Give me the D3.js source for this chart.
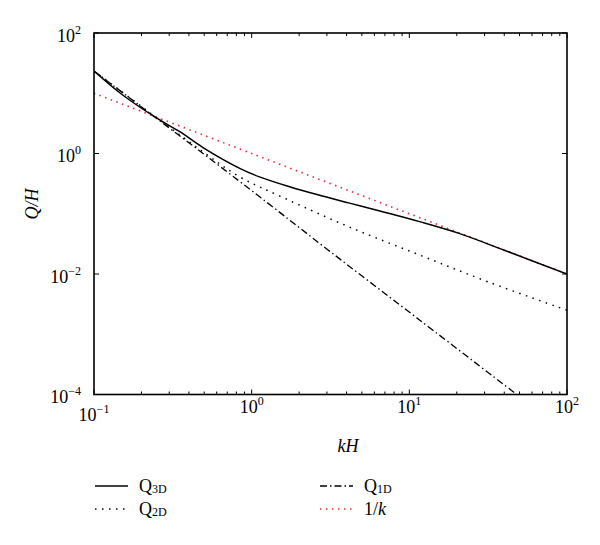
<!DOCTYPE html>
<html><head><meta charset="utf-8">
<script src="https://cdn.jsdelivr.net/npm/d3@7"></script>
<style>
body{margin:0;background:#fff;}
text{font-family:"Liberation Serif","DejaVu Serif",serif;fill:#000;}
</style></head>
<body><svg id="c" width="600" height="545"></svg>
<script>
// ---- data ----
const xTickExps = [-1, 0, 1, 2];
const yTickExps = [-4, -2, 0, 2];
const k3D = [0.1, 0.152, 0.261, 0.35, 0.5, 0.84, 1.12, 1.74, 2.6, 4.18, 6.5, 11.6, 20.9, 40, 100];
const q3D = [23.4, 9.35, 3.6, 2.3, 1.22, 0.568, 0.41, 0.281, 0.208, 0.150, 0.111, 0.074, 0.0468, 0.0248, 0.01];
const k2D = [0.1, 0.261, 0.5, 0.84, 1.58, 4.18, 11.6, 31.6, 100];
const q2D = [23.4, 3.6, 1.03, 0.41, 0.186, 0.060, 0.0207, 0.0074, 0.0025];
const k1D = [0.1, 0.93, 3.05, 11.6, 48];
const q1D = [23.4, 0.28, 0.0251, 0.00173, 0.0001];
const kInv = [0.1, 1, 10, 100];
const qInv = [10, 1, 0.1, 0.01];
const legendLabels = [["Q","3D"],["Q","2D"],["Q","1D"],["1/","k"]];

const svg = d3.select("#c");
const L=94, R=567, T=33, B=394.5;
const x = d3.scaleLog().domain([0.1,100]).range([L,R]);
const y = d3.scaleLog().domain([1e-4,100]).range([B,T]);

svg.append("defs").append("clipPath").attr("id","clip")
  .append("rect").attr("x",L).attr("y",T).attr("width",R-L).attr("height",B-T);

const minorX = [];
for (let e=-1;e<2;e++) for (let m=2;m<=9;m++) minorX.push(m*Math.pow(10,e));
const majorX = xTickExps.map(e=>Math.pow(10,e));
const majorY = yTickExps.map(e=>Math.pow(10,e));

const g = svg.append("g");
function tickLines(vals, len, axis){
  vals.forEach(v=>{
    if(axis==="x"){
      g.append("line").attr("x1",x(v)).attr("x2",x(v)).attr("y1",B).attr("y2",B-len).attr("stroke","#000").attr("stroke-width",1);
      g.append("line").attr("x1",x(v)).attr("x2",x(v)).attr("y1",T).attr("y2",T+len).attr("stroke","#000").attr("stroke-width",1);
    } else {
      g.append("line").attr("y1",y(v)).attr("y2",y(v)).attr("x1",L).attr("x2",L+len).attr("stroke","#000").attr("stroke-width",1);
      g.append("line").attr("y1",y(v)).attr("y2",y(v)).attr("x1",R).attr("x2",R-len).attr("stroke","#000").attr("stroke-width",1);
    }
  });
}
tickLines(minorX,3,"x");
tickLines(majorX,5,"x");
tickLines(majorY,5,"y");

// curves
const line = d3.line().x(d=>x(d[0])).y(d=>y(d[1])).curve(d3.curveCatmullRom.alpha(0.5));
const plot = svg.append("g").attr("clip-path","url(#clip)");
const zip=(a,b)=>a.map((v,i)=>[v,b[i]]);
plot.append("path").datum(zip(k1D,q1D)).attr("d",line).attr("fill","none").attr("stroke","#000").attr("stroke-width",1.3).attr("stroke-dasharray","7,3,1.5,3");
plot.append("path").datum(zip(k2D,q2D)).attr("d",line).attr("fill","none").attr("stroke","#000").attr("stroke-width",1.5).attr("stroke-dasharray","1.5,5.5");
plot.append("path").datum(zip(kInv,qInv)).attr("d",line).attr("fill","none").attr("stroke","#e8283a").attr("stroke-width",1.6).attr("stroke-dasharray","1.5,4.5");
plot.append("path").datum(zip(k3D,q3D)).attr("d",line).attr("fill","none").attr("stroke","#000").attr("stroke-width",1.5);

// frame
svg.append("rect").attr("x",L).attr("y",T).attr("width",R-L).attr("height",B-T).attr("fill","none").attr("stroke","#000").attr("stroke-width",1.6);

// tick labels
function powLabel(sel, exp){
  sel.append("tspan").text("10");
  sel.append("tspan").attr("dy",-8).attr("font-size",12).text(exp<0?"\u2212"+(-exp):String(exp));
}
xTickExps.forEach((e,i)=>{
  const t = svg.append("text").attr("x",x(Math.pow(10,e))).attr("y",i===0?421:413).attr("text-anchor","middle").attr("font-size",18);
  powLabel(t,e);
});
yTickExps.forEach(e=>{
  const t = svg.append("text").attr("x",81).attr("y",y(Math.pow(10,e))+8.5).attr("text-anchor","end").attr("font-size",18);
  powLabel(t,e);
});

// axis titles
const xt = svg.append("text").attr("x",348).attr("y",452).attr("text-anchor","middle").attr("font-size",18).attr("font-style","italic");
xt.append("tspan").text("kH");
const yt = svg.append("text").attr("transform","translate(38,204) rotate(-90)").attr("text-anchor","middle").attr("font-size",18).attr("font-style","italic");
yt.text("Q/H");

// legend
const legStyles = [
  {stroke:"#000",dash:null,w:1.5},
  {stroke:"#000",dash:"1.5,5.5",w:1.5},
  {stroke:"#000",dash:"7,3,1.5,3",w:1.3},
  {stroke:"#e8283a",dash:"1.5,4.5",w:1.6}
];
const legPos = [[95,486],[95,509],[320,486],[320,509]];
legendLabels.forEach((lab,i)=>{
  const [lx,ly]=legPos[i];
  const s=legStyles[i];
  const ln = svg.append("line").attr("x1",lx).attr("x2",lx+33).attr("y1",ly).attr("y2",ly).attr("stroke",s.stroke).attr("stroke-width",s.w);
  if(s.dash) ln.attr("stroke-dasharray",s.dash);
  const t = svg.append("text").attr("x",lx+44).attr("y",ly+6).attr("font-size",18);
  if(i<3){
    t.append("tspan").text(lab[0]);
    t.append("tspan").attr("font-size",12).attr("dy",1).text(lab[1]);
  } else {
    t.append("tspan").text(lab[0]);
    t.append("tspan").attr("font-style","italic").text(lab[1]);
  }
});
</script></body></html>
